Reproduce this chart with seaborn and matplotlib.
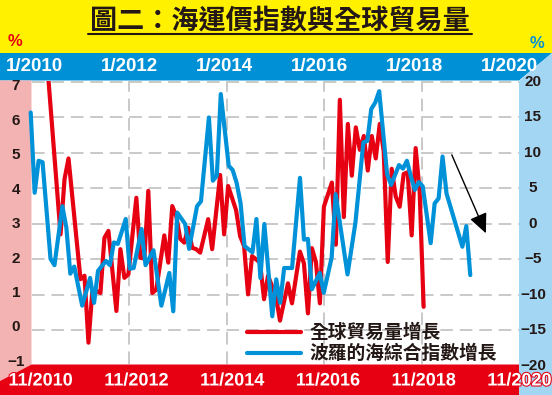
import matplotlib
matplotlib.use("Agg")
import numpy as np
import pandas as pd
import matplotlib.pyplot as plt
import seaborn as sns
from matplotlib.patches import Polygon
from matplotlib.lines import Line2D
import matplotlib.patheffects as pe

sns.set_style("white")
plt.rcParams['font.family'] = ['Noto Sans CJK TC', 'DejaVu Sans']

# ---------------- data ----------------
title = "圖二：海運價指數與全球貿易量"
trade_label = "全球貿易量增長"
bdi_label = "波羅的海綜合指數增長"

# Baltic Dry Index growth (%), right axis, top (1/yyyy) time axis
bdi_months = ["2009-12", "2010-01", "2010-02", "2010-03", "2010-05", "2010-06", "2010-08", "2010-09",
              "2010-10", "2010-11", "2011-01", "2011-03", "2011-04", "2011-05", "2011-07", "2011-08",
              "2011-09", "2011-10", "2011-12", "2012-01", "2012-02", "2012-04", "2012-05", "2012-07",
              "2012-09", "2012-11", "2012-12", "2013-01", "2013-03", "2013-04", "2013-06", "2013-07",
              "2013-09", "2013-10", "2013-11", "2013-12", "2014-02", "2014-03", "2014-04", "2014-05",
              "2014-06", "2014-08", "2014-09", "2014-10", "2014-11", "2015-01", "2015-02", "2015-03",
              "2015-04", "2015-06", "2015-08", "2015-09", "2015-10", "2015-11", "2016-01", "2016-02",
              "2016-04", "2016-05", "2016-08", "2016-10", "2016-12", "2017-01", "2017-02", "2017-03",
              "2017-04", "2017-06", "2017-07", "2017-09", "2017-10", "2017-11", "2017-12", "2018-01",
              "2018-02", "2018-03", "2018-05", "2018-06", "2018-07", "2018-08", "2018-09", "2019-01",
              "2019-02", "2019-03"]
bdi_values = [15.7, 4.4, 8.9, 8.7, -4.9, -5.8, 2.5, -0.5,
              -7.0, -6.0, -11.5, -7.6, -11.1, -6.6, -5.2, -5.8,
              -2.6, -2.8, 0.7, -6.3, -6.2, -0.7, -5.8, -3.7,
              -11.5, -6.9, -12.3, 1.6, 0.0, -3.5, 2.5, 3.2,
              15.0, 6.1, 6.8, 18.3, 8.2, 7.6, 5.8, 2.9,
              -3.1, -4.0, 0.7, -7.6, 0.0, -13.0, -7.8, -11.1,
              -6.2, -6.2, 6.5, -2.2, -2.1, -9.2, -6.9, -9.7,
              -4.7, 4.2, -7.1, 0.2, 11.5, 11.7, 16.2, 17.1,
              18.7, 7.0, 5.5, 8.3, 7.8, 8.9, 6.7, 4.8,
              5.9, 5.3, -2.7, 2.9, 3.6, 9.5, 4.3, -3.2,
              -0.3, -7.2]

# World trade volume growth (%), left axis, bottom (11/yyyy) time axis
trade_months = ["2010-11", "2011-04", "2011-05", "2011-06", "2011-09", "2011-10", "2011-11", "2011-12",
                "2012-01", "2012-02", "2012-03", "2012-04", "2012-06", "2012-07", "2012-08", "2012-09",
                "2012-11", "2012-12", "2013-01", "2013-02", "2013-03", "2013-04", "2013-06", "2013-07",
                "2013-08", "2013-09", "2013-10", "2013-11", "2013-12", "2014-01", "2014-02", "2014-03",
                "2014-05", "2014-06", "2014-08", "2014-09", "2014-10", "2014-12", "2015-01", "2015-02",
                "2015-03", "2015-04", "2015-06", "2015-07", "2015-08", "2015-09", "2015-10", "2015-11",
                "2016-01", "2016-02", "2016-04", "2016-05", "2016-06", "2016-07", "2016-08", "2016-09",
                "2016-10", "2016-12", "2017-01", "2017-02", "2017-03", "2017-04", "2017-05", "2017-06",
                "2017-07", "2017-08", "2017-09", "2017-10", "2017-11", "2017-12", "2018-01", "2018-02",
                "2018-03", "2018-04", "2018-05", "2018-06", "2018-07", "2018-08", "2018-09", "2018-10",
                "2018-11"]
trade_values = [10.1, 2.7, 4.3, 4.9, 1.4, 1.5, -0.44, 1.1,
                1.06, 1.0, 2.6, 2.8, 0.48, 2.27, 1.44, 1.54,
                3.76, 2.02, 2.0, 3.96, 1.0, 1.1, 2.67, 1.88,
                3.52, 3.23, 2.57, 2.46, 2.89, 2.31, 2.27, 2.17,
                3.14, 2.27, 4.42, 2.70, 4.1, 3.4, 2.65, 2.36,
                0.96, 2.07, 1.88, 0.82, 1.5, 1.2, 0.89, 0.2,
                1.28, 0.70, 2.2, 1.86, 0.41, 2.3, 1.9, 0.7,
                3.5, 4.2, 2.4, 6.6, 3.2, 5.9, 4.4, 5.8,
                5.15, 5.55, 4.55, 5.55, 4.9, 5.9, 5.1, 1.9,
                4.6, 3.8, 3.5, 4.45, 4.5, 2.67, 5.2, 3.94,
                0.6]

top_tick_years = [2010, 2012, 2014, 2016, 2018, 2020]
top_tick_labels = ["1/2010", "1/2012", "1/2014", "1/2016", "1/2018", "1/2020"]
bottom_tick_labels = ["11/2010", "11/2012", "11/2014", "11/2016", "11/2018", "11/2020"]
left_ticks = [-1, 0, 1, 2, 3, 4, 5, 6, 7]
right_ticks = [-20, -15, -10, -5, 0, 5, 10, 15, 20]


def to_dec(s):
    y, m = s.split("-")
    return int(y) + (int(m) - 1) / 12.0


bdi_df = pd.DataFrame({"t": [to_dec(s) for s in bdi_months], "v": bdi_values})
trade_df = pd.DataFrame({"t": [to_dec(s) for s in trade_months], "v": trade_values})

# ---------------- style ----------------
W, H = 552, 395
YELLOW = "#FFF100"
DBLUE = "#0090D6"
LBLUE = "#A2D6F3"
PINK = "#F4B3B3"
RED = "#E60012"
LINE_BLUE = "#0092D8"
INK = "#231815"
GRID = "#C9C9C9"
NUMFONT = ["Liberation Sans", "DejaVu Sans"]

fig = plt.figure(figsize=(W / 100, H / 100), dpi=100)
fig.patch.set_facecolor("white")


def band(pts, color):
    fig.add_artist(Polygon([(x / W, 1 - y / H) for x, y in pts], closed=True,
                           transform=fig.transFigure, facecolor=color,
                           edgecolor="none", zorder=-5))


band([(0, 0), (W, 0), (W, 53), (0, 53)], YELLOW)
band([(0, 53), (W, 53), (519, 80.5), (0, 80.5)], DBLUE)
band([(W, 53), (W, H), (519, H), (519, 80.5)], LBLUE)
band([(0, 80.5), (31.5, 80.5), (31.5, 364.5), (0, 381)], PINK)
band([(0, 381), (31.5, 364.5), (519, 364.5), (519, H), (0, H)], RED)

# plot area in pixels
x0, x1, y0, y1 = 32, 519, 81, 364
rect = [x0 / W, 1 - y1 / H, (x1 - x0) / W, (y1 - y0) / H]

bdi_xlim = (2009.944, 2020.192)
trade_xlim = (2010.654, 2020.825)
right_ylim = (-19.72, 20.14)
left_ylim = (-1.058, 7.145)

ax_g = fig.add_axes(rect)
ax_r = fig.add_axes(rect)
ax_b = fig.add_axes(rect)
for a in (ax_g, ax_r, ax_b):
    a.set_facecolor("none")
    for s in a.spines.values():
        s.set_visible(False)
    a.tick_params(length=0, labelleft=False, labelbottom=False,
                  labelright=False, labeltop=False)

# grid (right-axis scale, five equal columns)
ax_g.set_xlim(0, 1)
ax_g.set_ylim(*right_ylim)
ax_g.set_xticks([0.2, 0.4, 0.6, 0.8])
ax_g.set_yticks([v for v in right_ticks if right_ylim[0] < v < right_ylim[1]])
ax_g.grid(True, color=GRID, lw=1.4, ls=(0, (6.5, 3.5)))

# red series
sns.lineplot(data=trade_df, x="t", y="v", ax=ax_r, color=RED, lw=3,
             estimator=None, sort=False)
ax_r.set_xlim(*trade_xlim)
ax_r.set_ylim(*left_ylim)

# blue series
sns.lineplot(data=bdi_df, x="t", y="v", ax=ax_b, color=LINE_BLUE, lw=3,
             estimator=None, sort=False)
ax_b.set_xlim(*bdi_xlim)
ax_b.set_ylim(*right_ylim)
for ln in ax_b.lines:
    ln.set_clip_on(False)

for a in (ax_g, ax_r, ax_b):
    a.set_xlabel("")
    a.set_ylabel("")

# tick labels
for v in left_ticks:
    ax_r.text(-0.033, v, str(v).replace("-", "\u2212"), transform=ax_r.get_yaxis_transform(),
              ha="center", va="center", fontsize=11, fontweight="bold",
              family=NUMFONT, color=INK, clip_on=False)
for v in right_ticks:
    ax_b.text(1.0287, v, str(v).replace("-", "\u2212"), transform=ax_b.get_yaxis_transform(),
              ha="center", va="center", fontsize=11, fontweight="bold",
              family=NUMFONT, color=INK, clip_on=False)
for yr, lab in zip(top_tick_years, top_tick_labels):
    ax_b.text(yr, 1.0495, lab, transform=ax_b.get_xaxis_transform(),
              ha="center", va="center", fontsize=13.5, fontweight="bold",
              family=NUMFONT, color="white", clip_on=False)
for yr, lab in zip(top_tick_years, bottom_tick_labels):
    ax_r.text(yr + 10 / 12, -0.060, lab, transform=ax_r.get_xaxis_transform(),
              ha="center", va="center", fontsize=13, fontweight="bold",
              family=NUMFONT, color="white", clip_on=False,
              path_effects=[pe.withStroke(linewidth=1.5, foreground=RED)])

# legend
leg = ax_b.legend(handles=[Line2D([], [], color=RED, lw=3),
                           Line2D([], [], color=LINE_BLUE, lw=3)],
                  labels=[trade_label, bdi_label], loc="upper left",
                  bbox_to_anchor=(0.441, 0.144), frameon=False, borderpad=0,
                  borderaxespad=0, handlelength=2.9, handletextpad=0.45,
                  labelspacing=0.1,
                  prop=dict(family=["Noto Sans CJK TC", "DejaVu Sans"], weight="bold", size=13.5))
for t in leg.get_texts():
    t.set_color(INK)

# arrow
ax_b.annotate("", xy=(0.932, 0.462), xytext=(0.862, 0.739), xycoords="axes fraction",
              textcoords="axes fraction",
              arrowprops=dict(arrowstyle="-|>,head_length=1.2,head_width=0.55",
                              color="black", lw=1, shrinkA=0, shrinkB=0))

# title and unit marks
fig.text(280 / W, 1 - 21 / H, title, ha="center", va="center", fontsize=19.5,
         fontweight="bold", color=INK)
fig.add_artist(Line2D([88 / W, 472 / W], [1 - 34 / H, 1 - 34 / H],
                      transform=fig.transFigure, color=INK, lw=1.5))
fig.text(15 / W, 1 - 42 / H, "%", ha="center", va="center", fontsize=12,
         fontweight="bold", family=NUMFONT, color=RED)
fig.text(537 / W, 1 - 43 / H, "%", ha="center", va="center", fontsize=12,
         fontweight="bold", family=NUMFONT, color=LINE_BLUE)

fig.savefig("out.png", dpi=100)
